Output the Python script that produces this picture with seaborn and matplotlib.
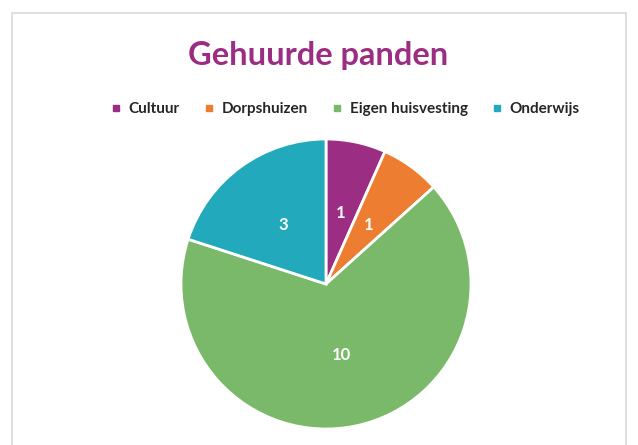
import matplotlib
matplotlib.use("Agg")
import matplotlib.pyplot as plt
import seaborn as sns
from matplotlib.patches import Rectangle

# data
categories = ["Cultuur", "Dorpshuizen", "Eigen huisvesting", "Onderwijs"]
values = [1, 1, 10, 3]
colors = ["#9B2D82", "#ED7D31", "#7AB96A", "#22A9BC"]
title = "Gehuurde panden"

sns.set_theme(style="white")
plt.rcParams['font.family'] = ['Lato', 'DejaVu Sans']

fig = plt.figure(figsize=(6.38, 4.45), dpi=100)

# light grey chart-area frame (bottom runs off the image)
fig.patches.append(Rectangle((12 / 638, -0.05), 614 / 638, 1.05 - 13 / 445,
                             transform=fig.transFigure, fill=False,
                             edgecolor="#D9D9D9", linewidth=1.2))

# pie axes: centre (326, 284) px, radius 145 px
cx, cy, r = 326, 284, 145
ax = fig.add_axes([(cx - r) / 638, (445 - cy - r) / 445, 2 * r / 638, 2 * r / 445])
wedges, texts, autotexts = ax.pie(
    values, colors=colors, startangle=90, counterclock=False, radius=1,
    autopct=lambda p: f"{round(p * sum(values) / 100):d}", pctdistance=0.5,
    wedgeprops=dict(edgecolor="white", linewidth=2),
    textprops=dict(color="white", fontsize=12, fontweight="bold"))
ax.set_xlim(-1.0, 1.0)
ax.set_ylim(-1.0, 1.0)
ax.set_aspect("equal")
ax.axis("off")

fig.text(318 / 638, 1 - 55 / 445, title, ha="center", va="center",
         fontsize=23.5, fontweight="bold", color="#9B2D82")

handles = [plt.Line2D([], [], marker="s", linestyle="", markersize=5,
                      markerfacecolor=c, markeredgecolor=c) for c in colors]
fig.legend(handles, categories, loc="center", bbox_to_anchor=(344 / 638, 1 - 109 / 445),
           ncol=4, frameon=False, handletextpad=0.3, columnspacing=1.45,
           handlelength=1.0, prop=dict(size=11, weight="bold"))

fig.savefig("out.png", dpi=100, facecolor="white")
